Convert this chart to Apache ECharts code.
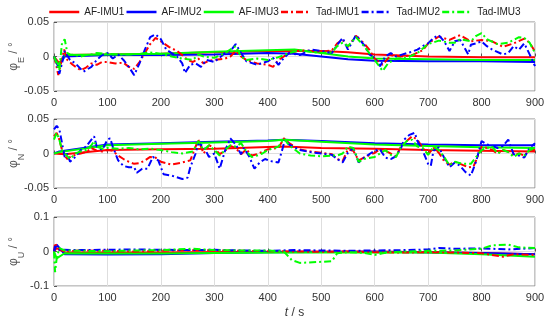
<!DOCTYPE html>
<html><head><meta charset="utf-8">
<script src="https://cdn.jsdelivr.net/npm/echarts@6/dist/echarts.min.js"></script>
<style>html,body{margin:0;padding:0;background:#fff}#c{width:550px;height:321px}</style>
</head><body><div id="c"></div>
<script>
const names = ['AF-IMU1','AF-IMU2','AF-IMU3','Tad-IMU1','Tad-IMU2','Tad-IMU3'];
const xTicks = [0,100,200,300,400,500,600,700,800,900];

// Panel 1: phi_E
const afE1 = [[0,0],[10,-0.01],[20,0.002],[100,0.003],[200,0.004],[300,0.006],[400,0.008],[500,0.008],[550,0.006],[600,0.003],[700,0.0],[800,-0.001],[900,-0.001]];
const afE2 = [[0,0],[8,-0.015],[20,0.0],[100,0.002],[200,0.002],[300,0.003],[400,0.005],[450,0.004],[500,0.0],[550,-0.004],[600,-0.006],[700,-0.007],[800,-0.007],[900,-0.008]];
const afE3 = [[0,0],[8,-0.012],[20,0.002],[100,0.003],[200,0.004],[300,0.007],[400,0.009],[450,0.01],[500,0.005],[550,0.0],[600,-0.003],[700,-0.004],[800,-0.005],[900,-0.005]];
const tadE1 = [[0,0],[4,-0.012],[8,-0.027],[13,-0.01],[19,0.01],[25,-0.005],[35,-0.012],[50,-0.02],[60,-0.016],[70,-0.01],[80,-0.012],[90,-0.008],[100,-0.008],[115,-0.01],[130,-0.009],[140,-0.015],[150,-0.018],[160,-0.008],[170,0.005],[180,0.018],[190,0.027],[200,0.022],[215,0.014],[230,0.008],[240,0.002],[250,-0.005],[260,-0.008],[270,-0.003],[280,-0.01],[290,-0.006],[300,-0.005],[320,-0.003],[330,0.0],[340,0.008],[350,0.0],[360,-0.005],[380,-0.01],[400,-0.012],[410,-0.015],[420,-0.005],[440,0.005],[460,0.009],[480,0.008],[500,0.007],[520,0.009],[530,0.019],[540,0.024],[550,0.014],[565,0.03],[580,0.019],[590,0.01],[600,-0.003],[615,-0.012],[630,0.002],[650,0.0],[670,0.002],[690,0.009],[700,0.019],[720,0.029],[740,0.024],[760,0.031],[780,0.022],[800,0.024],[820,0.022],[840,0.014],[860,0.019],[880,0.026],[890,0.02],[900,0.007]];
const tadE2 = [[0,0],[5,-0.01],[10,-0.025],[15,-0.01],[20,0.008],[30,-0.005],[40,-0.01],[55,-0.022],[70,-0.015],[80,-0.005],[90,0.002],[100,0.005],[110,-0.003],[120,0.003],[130,-0.005],[140,-0.015],[150,-0.027],[160,-0.01],[170,0.01],[180,0.028],[190,0.032],[200,0.025],[210,0.01],[220,0.005],[230,0.0],[240,-0.01],[245,-0.024],[255,-0.012],[265,-0.01],[275,-0.015],[285,-0.005],[300,-0.008],[320,0.005],[330,0.008],[340,0.018],[350,0.005],[360,-0.007],[380,-0.012],[400,-0.007],[410,-0.002],[420,-0.012],[430,-0.002],[440,0.005],[460,0.002],[480,0.01],[500,0.008],[520,0.005],[530,0.017],[540,0.027],[550,0.01],[565,0.031],[580,0.017],[590,0.003],[600,-0.002],[610,-0.014],[620,0.0],[630,0.005],[640,0.0],[660,0.005],[670,0.007],[680,0.01],[690,0.015],[700,0.019],[710,0.027],[720,0.031],[730,0.022],[740,0.008],[750,0.022],[760,0.024],[770,0.01],[775,0.003],[780,0.017],[790,0.019],[800,0.022],[810,0.015],[820,0.01],[840,0.003],[850,0.005],[860,0.015],[870,0.01],[880,0.019],[890,0.003],[900,-0.014]];
const tadE3 = [[0,0],[5,-0.01],[10,-0.02],[15,0.02],[20,0.025],[25,0.005],[30,0.003],[40,0.002],[50,0.0],[60,0.002],[70,0.003],[80,0.005],[100,0.004],[120,0.003],[140,0.003],[160,0.004],[180,0.006],[200,0.004],[220,0.0],[240,-0.003],[260,-0.005],[270,0.003],[280,0.0],[300,-0.002],[320,0.005],[340,0.015],[350,0.0],[360,-0.005],[380,-0.003],[400,-0.005],[420,-0.001],[440,0.005],[460,0.009],[480,0.007],[500,0.005],[520,0.006],[530,0.015],[540,0.02],[550,0.015],[565,0.028],[580,0.015],[600,-0.005],[615,-0.021],[625,-0.01],[640,-0.003],[660,-0.002],[680,0.005],[700,0.018],[720,0.023],[740,0.02],[750,0.02],[760,0.025],[780,0.022],[790,0.03],[800,0.034],[810,0.025],[830,0.018],[850,0.02],[870,0.028],[880,0.027],[890,0.02],[900,0.005]];

// Panel 2: phi_N
const afN1 = [[0,0],[20,-0.001],[100,0.005],[200,0.006],[300,0.007],[430,0.01],[500,0.008],[600,0.007],[700,0.005],[800,0.004],[900,0.003]];
const afN2 = [[0,0],[10,0.003],[100,0.013],[200,0.015],[300,0.017],[400,0.019],[430,0.02],[500,0.018],[600,0.015],[700,0.013],[800,0.012],[900,0.012]];
const afN3 = [[0,0],[10,0.002],[100,0.012],[200,0.014],[300,0.016],[400,0.018],[430,0.02],[500,0.017],[600,0.013],[700,0.011],[800,0.009],[900,0.008]];
const tadN1 = [[0,0.025],[5,0.03],[10,0.02],[15,0.005],[20,-0.003],[25,-0.008],[30,-0.005],[40,-0.002],[50,0.0],[60,0.002],[70,0.008],[80,0.004],[90,0.003],[100,0.005],[110,0.004],[120,-0.003],[130,-0.008],[140,-0.012],[150,-0.015],[160,-0.014],[170,-0.01],[180,-0.005],[190,-0.006],[200,-0.012],[220,-0.016],[240,-0.013],[255,-0.01],[265,0.01],[270,0.02],[280,0.0],[290,0.012],[300,0.008],[310,-0.001],[320,0.004],[330,0.011],[340,0.008],[350,-0.001],[360,0.006],[370,-0.003],[380,-0.001],[400,0.006],[420,0.008],[430,0.022],[440,0.015],[460,0.006],[480,0.003],[500,0.001],[520,-0.001],[530,-0.008],[540,-0.011],[550,0.006],[560,0.004],[570,-0.01],[580,-0.006],[600,0.001],[610,0.006],[620,0.004],[640,-0.004],[650,0.011],[660,0.018],[670,0.025],[680,0.02],[690,0.008],[700,-0.001],[710,0.008],[720,0.001],[730,-0.011],[740,-0.016],[750,-0.012],[760,-0.015],[775,-0.02],[785,-0.019],[795,0.0],[800,0.01],[810,0.008],[820,0.005],[830,0.0],[840,0.005],[850,0.003],[860,-0.002],[870,0.0],[880,-0.003],[890,0.005],[900,0.005]];
const tadN2 = [[0,0.035],[5,0.04],[10,0.035],[15,0.015],[20,-0.005],[25,0.0],[30,-0.012],[40,-0.005],[50,0.005],[60,0.01],[70,0.02],[75,0.025],[80,0.01],[90,0.005],[100,0.02],[105,0.022],[110,0.01],[120,-0.01],[130,-0.018],[140,-0.02],[150,-0.02],[155,-0.028],[165,-0.022],[175,-0.022],[185,-0.005],[195,-0.01],[205,-0.03],[220,-0.032],[240,-0.037],[250,-0.035],[255,-0.02],[265,0.0],[270,0.015],[280,0.01],[290,-0.005],[300,0.0],[310,-0.022],[320,0.004],[330,0.022],[340,0.013],[350,-0.001],[355,0.008],[365,-0.004],[375,-0.022],[385,-0.013],[395,-0.008],[405,-0.011],[420,-0.013],[428,0.008],[432,0.02],[440,0.013],[460,0.005],[480,0.002],[500,0.0],[520,-0.002],[530,-0.008],[540,-0.013],[550,0.001],[560,0.008],[570,-0.013],[580,-0.006],[600,0.004],[610,0.006],[620,-0.006],[630,-0.008],[640,-0.004],[650,0.009],[655,0.02],[665,0.027],[675,0.03],[680,0.018],[690,0.004],[700,-0.015],[705,-0.018],[710,0.004],[720,0.009],[730,-0.006],[740,-0.02],[750,-0.013],[760,-0.018],[770,-0.027],[780,-0.032],[790,-0.011],[800,0.018],[810,0.013],[820,0.011],[830,0.008],[840,0.011],[850,0.02],[860,-0.001],[870,-0.003],[880,-0.006],[890,0.008],[900,0.015]];
const tadN3 = [[0,0.02],[5,0.03],[10,0.02],[15,0.005],[20,0.0],[30,-0.008],[40,0.0],[50,0.003],[60,0.005],[70,0.012],[75,0.018],[80,0.01],[90,0.007],[100,0.008],[120,0.007],[140,0.008],[160,0.006],[180,0.007],[200,0.005],[220,0.002],[240,0.0],[260,0.003],[270,0.018],[280,0.005],[290,0.012],[300,0.005],[310,-0.003],[320,0.005],[330,0.012],[340,0.01],[350,0.015],[360,0.003],[370,-0.005],[380,-0.003],[390,0.0],[400,0.005],[420,0.01],[430,0.022],[440,0.012],[460,0.0],[480,-0.003],[500,-0.004],[520,-0.003],[530,-0.003],[540,0.0],[550,0.01],[560,0.008],[570,-0.012],[580,-0.008],[600,-0.005],[620,0.005],[630,-0.002],[640,-0.005],[650,0.01],[660,0.018],[670,0.02],[680,0.01],[690,0.008],[700,-0.002],[710,0.01],[720,0.005],[730,-0.005],[740,-0.017],[750,-0.012],[760,-0.014],[770,-0.015],[780,-0.015],[790,-0.005],[800,0.005],[810,0.008],[820,0.01],[830,0.0],[840,0.005],[850,0.002],[860,-0.005],[870,0.0],[880,-0.003],[890,0.005],[900,0.008]];

// Panel 3: phi_U
const afU1 = [[0,0],[5,0.01],[20,-0.002],[200,-0.003],[400,-0.001],[600,0.0],[800,-0.004],[900,-0.008]];
const afU2 = [[0,0],[5,0.02],[20,-0.008],[100,-0.009],[200,-0.008],[300,-0.004],[400,-0.002],[600,-0.001],[800,-0.004],[900,-0.008]];
const afU3 = [[0,0],[5,-0.02],[20,-0.005],[100,-0.006],[200,-0.006],[300,-0.004],[500,-0.002],[700,-0.003],[800,-0.008],[900,-0.015]];
const tadU1 = [[0,0.0],[2,0.025],[5,0.015],[10,0.005],[20,0.0],[50,0.003],[100,0.002],[150,0.0],[200,0.002],[250,0.004],[300,0.003],[350,0.002],[400,0.001],[450,0.0],[500,-0.001],[550,0.0],[600,-0.002],[650,-0.003],[700,-0.002],[750,-0.003],[800,-0.005],[840,-0.015],[860,-0.008],[900,-0.01]];
const tadU2 = [[0,0],[2,0.015],[5,0.01],[10,0.005],[50,0.004],[100,0.005],[150,0.006],[200,0.005],[250,0.004],[300,0.005],[350,0.003],[400,0.002],[450,0.004],[500,0.003],[550,0.002],[600,0.003],[650,0.004],[700,0.006],[720,0.01],[750,0.008],[800,0.009],[850,0.006],[900,0.01]];
const tadU3 = [[0,0],[2,-0.06],[5,-0.02],[10,0.01],[20,0.003],[50,0.002],[100,0.001],[150,0.003],[200,0.004],[260,0.008],[300,0.004],[350,0.003],[400,0.003],[430,0.0],[445,-0.025],[460,-0.033],[500,-0.03],[520,-0.028],[530,-0.005],[550,-0.002],[580,-0.004],[600,-0.01],[615,-0.005],[630,-0.002],[700,0.002],[750,0.003],[800,0.008],[820,0.018],[850,0.02],[870,0.012],[900,0.01]];

const colors = ['#ff0000','#0000ff','#00ff00','#ff0000','#0000ff','#00ff00'];
const panels = [
  {sub:'E', lim:0.05, data:[afE1,afE2,afE3,tadE1,tadE2,tadE3]},
  {sub:'N', lim:0.05, data:[afN1,afN2,afN3,tadN1,tadN2,tadN3]},
  {sub:'U', lim:0.1,  data:[afU1,afU2,afU3,tadU1,tadU2,tadU3]}
];
const tops = [22,119,217];
const FONT = 'Liberation Sans';
const grids = [], xAxes = [], yAxes = [], series = [];
panels.forEach((p,i)=>{
  grids.push({left:54, right:15, top:tops[i], height:69, show:true, borderColor:'#8c8c8c', borderWidth:1, backgroundColor:'transparent', containLabel:false, outerBoundsMode:'none'});
  xAxes.push({type:'value', gridIndex:i, min:0, max:900, interval:100,
    axisLine:{show:false}, axisTick:{show:true, inside:true, length:3, lineStyle:{color:'#555'}},
    axisLabel:{color:'#333', fontFamily:FONT, fontSize:11, margin:6, formatter:v=>xTicks.includes(v)?String(v):''},
    splitLine:{show:true, lineStyle:{color:'#dedede', width:1}},
    name: i===2 ? '{i|t}{n| / s}' : '', nameLocation:'middle', nameGap:21, nameMoveOverlap:false,
    nameTextStyle:{rich:{i:{fontStyle:'italic', fontFamily:FONT, fontSize:12, color:'#333'}, n:{fontFamily:FONT, fontSize:12, color:'#333'}}}
  });
  yAxes.push({type:'value', gridIndex:i, min:-p.lim, max:p.lim, interval:p.lim,
    axisLine:{show:false}, axisTick:{show:true, inside:true, length:3, lineStyle:{color:'#555'}},
    axisLabel:{color:'#333', fontFamily:FONT, fontSize:11, margin:5, formatter:v=>{const r=Math.round(v*1000)/1000; return r===0?'0':String(r);}},
    splitLine:{show:true, lineStyle:{color:'#dedede', width:1}},
    name:'{a|φ}{b|'+p.sub+'}{a| / °}', nameLocation:'middle', nameGap:28, nameRotate:90, nameMoveOverlap:false,
    nameTextStyle:{rich:{a:{fontFamily:FONT, fontSize:12, color:'#555', verticalAlign:'top', lineHeight:18}, b:{fontFamily:FONT, fontSize:9, color:'#555', verticalAlign:'bottom', lineHeight:18}}}
  });
  p.data.forEach((d,k)=>{
    series.push({type:'line', name:names[k], xAxisIndex:i, yAxisIndex:i, data:d, symbol:'none', animation:false,
      lineStyle:{color:colors[k], width:2, type: k<3 ? 'solid' : [7,3,2,3]}, itemStyle:{color:colors[k]}, z: k<3?2:3});
  });
});
const chart = echarts.init(document.getElementById('c'), null, {renderer:'canvas'});
chart.setOption({
  animation:false,
  backgroundColor:'#fff',
  legend:{data:names, top:2, left:43, itemWidth:30, itemHeight:10, itemGap:1,
    itemStyle:{opacity:0}, lineStyle:{width:2.5},
    textStyle:{fontFamily:FONT, fontSize:10, color:'#222'}},
  grid:grids, xAxis:xAxes, yAxis:yAxes, series:series
});
</script></body></html>
